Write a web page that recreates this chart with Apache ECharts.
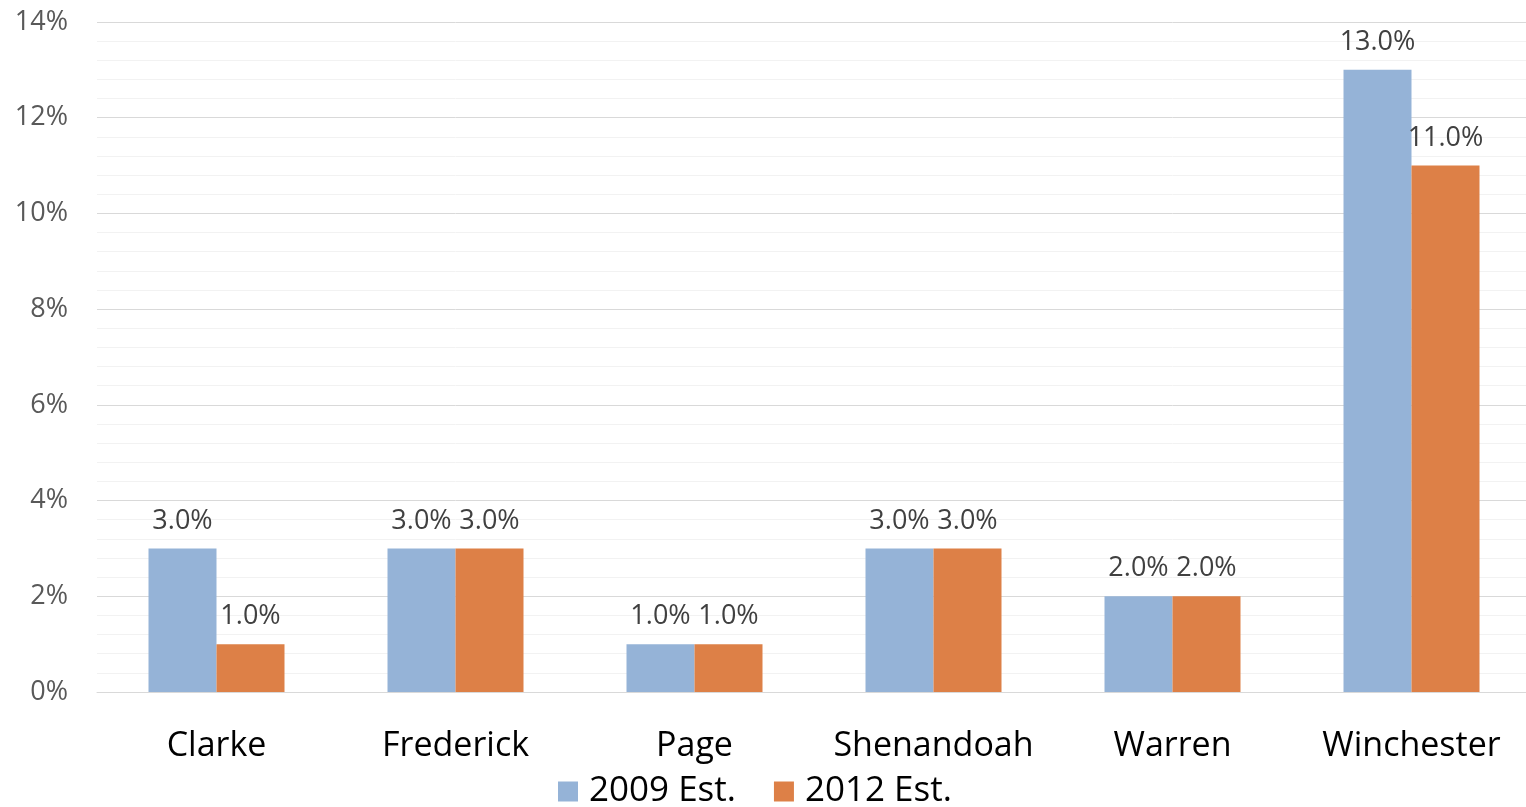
<!DOCTYPE html>
<html>
<head>
<meta charset="utf-8">
<script src="https://cdn.jsdelivr.net/npm/echarts@6/dist/echarts.min.js"></script>
<style>
  html, body { margin: 0; padding: 0; background: #fff; overflow: hidden; }
  #chart { width: 1531px; height: 807px; }
</style>
</head>
<body>
<div id="chart"></div>
<script>
// data
const categories = ['Clarke', 'Frederick', 'Page', 'Shenandoah', 'Warren', 'Winchester']
const est2009 = [3.0, 3.0, 1.0, 3.0, 2.0, 13.0]
const est2012 = [1.0, 3.0, 1.0, 3.0, 2.0, 11.0]
const seriesNames = ['2009 Est.', '2012 Est.']

const font = '"Open Sans", "Noto Sans", sans-serif'

const chart = echarts.init(document.getElementById('chart'))

const labelStyle = {
  show: true,
  position: 'top',
  distance: 14,
  fontFamily: font,
  fontSize: 27,
  color: '#404040',
  formatter: p => p.value.toFixed(1) + '%'
}

chart.setOption({
  animation: false,
  textStyle: { fontFamily: font },
  grid: { left: 97, right: 0, top: 22, bottom: 115 },
  legend: {
    bottom: -2,
    left: 558,
    padding: 0,
    itemWidth: 20,
    itemHeight: 20,
    itemGap: 38,
    icon: 'rect',
    textStyle: { fontFamily: font, fontSize: 35, color: '#000', padding: [0, 0, 0, 6] },
    data: seriesNames
  },
  xAxis: {
    type: 'category',
    data: categories,
    axisTick: { show: false },
    axisLine: { lineStyle: { color: '#d9d9d9', width: 1 } },
    axisLabel: { fontFamily: font, fontSize: 34, color: '#000', margin: 37, interval: 0 }
  },
  yAxis: {
    type: 'value',
    min: 0,
    max: 14,
    interval: 2,
    axisLabel: {
      fontFamily: font, fontSize: 27, color: '#595959', margin: 29,
      formatter: v => v + '%'
    },
    splitLine: { lineStyle: { color: '#d9d9d9', width: 1 } },
    minorTick: { show: false, splitNumber: 5 },
    minorSplitLine: { show: true, lineStyle: { color: '#f2f2f2', width: 1 } },
    axisLine: { show: false },
    axisTick: { show: false }
  },
  series: [
    {
      name: seriesNames[0],
      type: 'bar',
      data: est2009,
      barWidth: 68,
      barGap: '0%',
      itemStyle: { color: '#95b3d7' },
      label: labelStyle
    },
    {
      name: seriesNames[1],
      type: 'bar',
      data: est2012,
      barWidth: 68,
      itemStyle: { color: '#dd8047' },
      label: labelStyle
    }
  ]
})
</script>
</body>
</html>
